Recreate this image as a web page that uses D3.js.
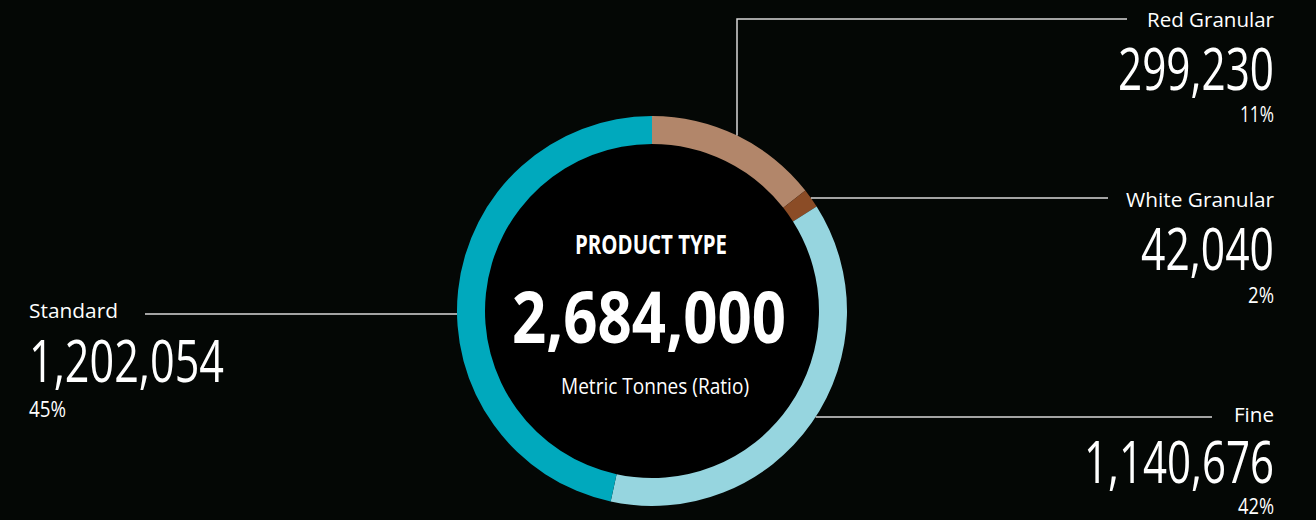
<!DOCTYPE html>
<html>
<head>
<meta charset="utf-8">
<script src="https://cdn.jsdelivr.net/npm/d3@7"></script>
<style>
  html, body { margin: 0; padding: 0; background: #040705; }
  svg { display: block; }
  text { fill: #ffffff; font-family: "Open Sans", "Noto Sans", "DejaVu Sans", sans-serif; }
</style>
</head>
<body>
<svg id="chart" width="1316" height="520"></svg>
<script>
// data
var categories = ["Red Granular", "White Granular", "Fine", "Standard"];
var tonnes = [299230, 42040, 1140676, 1202054];
var percentLabels = ["11%", "2%", "42%", "45%"];
// share of the ring, as drawn in the picture (percent)
var ringShare = [14.4, 1.6, 37.4, 46.6];
var colors = ["#b2866a", "#8b4c26", "#96d5df", "#00a9bd"];
var totalTonnes = 2684000;
var centerTitle = "PRODUCT TYPE";
var centerUnit = "Metric Tonnes (Ratio)";

var svg = d3.select("#chart");
const cx = 652, cy = 311;
const outerR = 195, innerR = 167;

var ring = svg.append("g").attr("transform", "translate(" + cx + "," + cy + ")");

ring.append("circle")
    .attr("r", innerR)
    .attr("fill", "#000");

var pie = d3.pie().sort(null).value(d => d);
var arc = d3.arc().innerRadius(innerR).outerRadius(outerR);

ring.selectAll("path.slice")
    .data(pie(ringShare))
    .join("path")
    .attr("class", "slice")
    .attr("d", arc)
    .attr("fill", (d, i) => colors[i]);

// where a horizontal line at height y touches the ring
function ringX(y, side) {
    var dy = y - cy;
    return cx + side * Math.sqrt(outerR * outerR - dy * dy);
}
function ringY(x) {
    var dx = x - cx;
    return cy - Math.sqrt(outerR * outerR - dx * dx);
}

// leader lines
var lineColor = "#d8d8d8";
var leaders = [
    [[737, ringY(737)], [737, 19], [1127, 19]],
    [[ringX(198, 1), 198], [1108, 198]],
    [[ringX(417, 1), 417], [1212, 417]],
    [[145, 314], [ringX(314, -1), 314]]
];
svg.selectAll("path.leader")
    .data(leaders)
    .join("path")
    .attr("class", "leader")
    .attr("d", d3.line())
    .attr("fill", "none")
    .attr("stroke", lineColor)
    .attr("stroke-width", 1.5);

// label layout: anchor x, baselines and widths
var layout = [
    {x: 1274, anchor: "end", y: [27.3, 90, 121.7], w: [127, 156, 34]},
    {x: 1274, anchor: "end", y: [206.7, 270, 303], w: [148, 133, 26]},
    {x: 1274, anchor: "end", y: [422.3, 483.3, 514], w: [40, 190, 36]},
    {x: 29, anchor: "start", y: [318.3, 381.7, 416.7], w: [89, 195, 37]}
];
var fmt = d3.format(",");

var labels = svg.selectAll("g.label")
    .data(categories)
    .join("g")
    .attr("class", "label");

labels.append("text")
    .attr("x", (d, i) => layout[i].x)
    .attr("y", (d, i) => layout[i].y[0])
    .attr("text-anchor", (d, i) => layout[i].anchor)
    .attr("font-size", 20)
    .attr("textLength", (d, i) => layout[i].w[0])
    .attr("lengthAdjust", "spacingAndGlyphs")
    .text(d => d);

labels.append("text")
    .attr("x", (d, i) => layout[i].x)
    .attr("y", (d, i) => layout[i].y[1])
    .attr("text-anchor", (d, i) => layout[i].anchor)
    .attr("font-size", 58)
    .attr("font-weight", 400)
    .attr("textLength", (d, i) => layout[i].w[1])
    .attr("lengthAdjust", "spacingAndGlyphs")
    .text((d, i) => fmt(tonnes[i]));

labels.append("text")
    .attr("x", (d, i) => layout[i].x)
    .attr("y", (d, i) => layout[i].y[2])
    .attr("text-anchor", (d, i) => layout[i].anchor)
    .attr("font-size", 21)
    .attr("textLength", (d, i) => layout[i].w[2])
    .attr("lengthAdjust", "spacingAndGlyphs")
    .text((d, i) => percentLabels[i]);

// center text
svg.append("text")
    .attr("x", 651).attr("y", 254)
    .attr("text-anchor", "middle")
    .attr("font-size", 26)
    .attr("font-weight", 700)
    .attr("textLength", 152)
    .attr("lengthAdjust", "spacingAndGlyphs")
    .text(centerTitle);

svg.append("text")
    .attr("x", 649).attr("y", 343.3)
    .attr("text-anchor", "middle")
    .attr("font-size", 72)
    .attr("font-weight", 700)
    .attr("textLength", 274)
    .attr("lengthAdjust", "spacingAndGlyphs")
    .text(fmt(totalTonnes));

svg.append("text")
    .attr("x", 655).attr("y", 394.3)
    .attr("text-anchor", "middle")
    .attr("font-size", 22)
    .attr("textLength", 188)
    .attr("lengthAdjust", "spacingAndGlyphs")
    .text(centerUnit);
</script>
</body>
</html>
